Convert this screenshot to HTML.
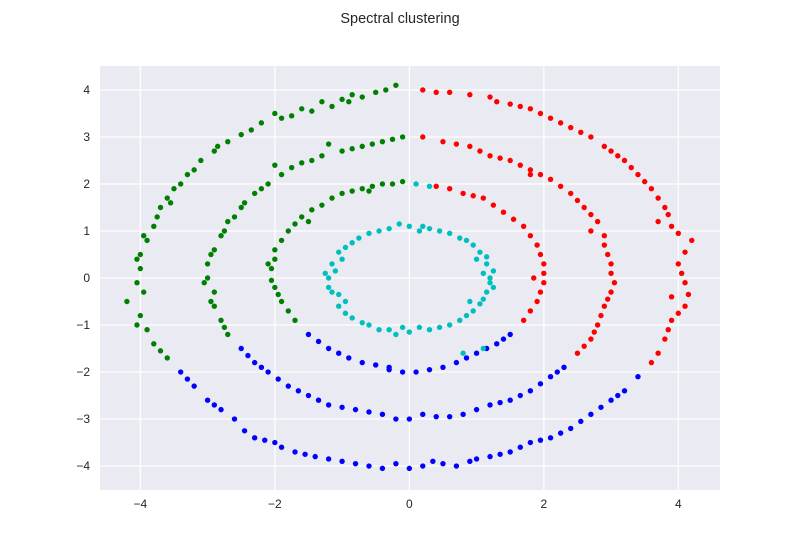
<!DOCTYPE html>
<html><head><meta charset="utf-8"><style>
html,body{margin:0;padding:0;background:#fff;}
svg{display:block;font-family:"Liberation Sans",Arial,sans-serif;}
</style></head><body>
<svg id="chart" width="800" height="550" xmlns="http://www.w3.org/2000/svg">
<text x="400" y="23" text-anchor="middle" font-size="14.5" fill="#262626">Spectral clustering</text>
<rect x="100" y="66" width="620" height="424" fill="#eaeaf2"/>
<g id="grid"></g>
<g id="ticks"></g>
<g id="points"></g>
</svg>
<script>
const xTicks=[-4,-2,0,2,4];
const yTicks=[-4,-3,-2,-1,0,1,2,3,4];
const greenPts=[[-0.2,4.1],[-0.5,3.95],[-0.7,3.85],[-1.0,3.8],[-1.3,3.75],[-1.6,3.6],[-1.9,3.4],[-2.2,3.3],[-2.5,3.05],[-2.7,2.9],[-2.9,2.7],[-3.1,2.5],[-3.3,2.2],[-3.4,2.0],[-3.6,1.7],[-3.7,1.5],[-3.8,1.1],[-3.9,0.8],[-4.0,0.5],[-4.0,0.2],[-4.05,-0.1],[-4.2,-0.5],[-4.0,-0.8],[-3.9,-1.1],[-3.8,-1.4],[-3.6,-1.7],
[-0.1,3.0],[-0.4,2.9],[-0.7,2.8],[-1.0,2.7],[-1.3,2.6],[-1.6,2.45],[-1.9,2.2],[-2.1,2.0],[-2.3,1.8],[-2.5,1.5],[-2.7,1.2],[-2.8,0.9],[-2.9,0.6],[-3.0,0.3],[-3.0,0.0],[-2.9,-0.3],[-2.9,-0.6],[-2.8,-0.9],[-2.7,-1.2],
[-0.1,2.05],[-0.4,2.0],[-0.7,1.9],[-1.0,1.8],[-1.3,1.55],[-1.6,1.3],[-1.8,1.0],[-2.0,0.6],[-2.05,0.2],[-2.0,-0.2],[-1.9,-0.5],[-1.7,-0.9],
[-0.9,3.75],[-2.0,3.5],[-3.5,1.9],[-1.2,2.85],[-2.0,2.4],[-2.6,1.3],[-0.6,1.85],[-1.5,1.2],[-2.1,0.3],
[-0.35,4.0],[-0.85,3.9],[-1.15,3.65],[-1.45,3.55],[-1.75,3.45],[-2.35,3.15],[-2.85,2.8],[-3.2,2.3],[-3.55,1.6],[-3.75,1.3],[-3.95,0.9],[-4.05,0.4],[-3.95,-0.3],[-4.05,-1.0],[-3.7,-1.55],
[-0.25,2.95],[-0.55,2.85],[-0.85,2.75],[-1.45,2.5],[-1.75,2.35],[-2.2,1.9],[-2.45,1.6],[-2.75,1.0],[-2.95,0.5],[-3.05,-0.1],[-2.95,-0.5],[-2.75,-1.05],
[-0.25,2.0],[-0.55,1.95],[-0.85,1.85],[-1.15,1.7],[-1.45,1.45],[-1.7,1.15],[-1.9,0.8],[-2.0,0.4],[-2.05,-0.05],[-1.95,-0.35],[-1.8,-0.7]];
const bluePts=[[-3.4,-2.0],[-3.2,-2.3],[-3.0,-2.6],[-2.8,-2.8],[-2.6,-3.0],[-2.3,-3.4],[-2.0,-3.5],[-1.7,-3.7],[-1.4,-3.8],[-1.0,-3.9],[-0.6,-4.0],[-0.2,-3.95],[0.2,-4.0],[0.5,-3.95],[0.9,-3.9],[1.2,-3.8],[1.5,-3.7],[1.8,-3.5],[2.1,-3.4],[2.4,-3.2],[2.7,-2.9],[3.0,-2.6],[3.2,-2.4],[3.4,-2.1],
[-2.5,-1.5],[-2.3,-1.8],[-2.1,-2.0],[-1.8,-2.3],[-1.5,-2.5],[-1.2,-2.7],[-0.8,-2.8],[-0.4,-2.9],[0.0,-3.0],[0.4,-2.95],[0.8,-2.9],[1.2,-2.7],[1.5,-2.6],[1.8,-2.4],[2.1,-2.1],[2.3,-1.9],
[-1.5,-1.2],[-1.2,-1.5],[-0.9,-1.7],[-0.5,-1.85],[-0.1,-2.0],[0.3,-1.95],[0.7,-1.8],[1.0,-1.6],[1.3,-1.4],[1.5,-1.2],
[-1.9,-3.6],[0.0,-4.05],[1.0,-3.85],[-1.0,-2.75],[1.0,-2.8],[-0.3,-1.95],[0.5,-1.9],
[-3.3,-2.15],[-2.9,-2.7],[-2.45,-3.25],[-2.15,-3.45],[-1.55,-3.75],[-1.2,-3.85],[-0.8,-3.95],[-0.4,-4.05],[0.35,-3.9],[0.7,-4.0],[1.35,-3.75],[1.65,-3.6],[1.95,-3.45],[2.25,-3.3],[2.55,-3.05],[2.85,-2.75],[3.1,-2.5],
[-2.4,-1.65],[-2.2,-1.9],[-1.95,-2.15],[-1.65,-2.4],[-1.35,-2.6],[-0.6,-2.85],[-0.2,-3.0],[0.2,-2.9],[0.6,-2.95],[1.35,-2.65],[1.65,-2.5],[1.95,-2.25],[2.2,-2.0],
[-1.35,-1.35],[-1.05,-1.6],[-0.7,-1.8],[-0.3,-1.9],[0.1,-2.0],[0.85,-1.7],[1.15,-1.5],[1.4,-1.3]];
const redPts=[[3.6,-1.8],[3.8,-1.3],[3.9,-0.9],[4.1,-0.6],[4.1,-0.1],[4.0,0.3],[4.2,0.8],[3.9,1.1],[3.8,1.5],[3.6,1.9],[3.4,2.2],[3.2,2.5],[3.0,2.7],[2.7,3.0],[2.4,3.2],[2.1,3.4],[1.8,3.6],[1.5,3.7],[1.2,3.85],[0.9,3.9],[0.6,3.95],[0.2,4.0],
[2.5,-1.6],[2.7,-1.3],[2.8,-1.0],[2.9,-0.6],[3.0,-0.3],[3.0,0.1],[2.95,0.5],[2.9,0.9],[2.8,1.2],[2.6,1.5],[2.4,1.8],[2.1,2.1],[1.8,2.3],[1.5,2.5],[1.2,2.6],[0.9,2.8],[0.5,2.9],[0.2,3.0],
[1.7,-0.9],[1.9,-0.5],[2.0,-0.1],[2.0,0.3],[1.9,0.7],[1.7,1.1],[1.4,1.4],[1.1,1.7],[0.8,1.8],[0.4,1.95],
[3.7,1.2],[2.9,2.8],[1.3,3.75],[3.9,-0.4],[2.7,1.0],[1.8,2.2],[1.85,0.0],
[3.7,-1.6],[3.85,-1.1],[4.0,-0.75],[4.15,-0.35],[4.05,0.1],[4.1,0.55],[4.0,0.95],[3.85,1.35],[3.7,1.7],[3.5,2.05],[3.3,2.35],[3.1,2.6],[2.55,3.1],[2.25,3.3],[1.95,3.5],[1.65,3.65],[0.4,3.95],
[2.6,-1.45],[2.75,-1.15],[2.85,-0.8],[2.95,-0.45],[3.05,-0.1],[3.0,0.3],[2.9,0.7],[2.7,1.35],[2.5,1.65],[2.25,1.95],[1.95,2.2],[1.65,2.4],[1.35,2.55],[1.05,2.7],[0.7,2.85],
[1.8,-0.7],[1.95,-0.3],[2.0,0.1],[1.95,0.5],[1.8,0.9],[1.55,1.25],[1.25,1.55],[0.95,1.75],[0.6,1.9]];
const cyanPts=[[1.2,0],[1.15,0.3],[1.05,0.55],[0.85,0.8],[0.6,0.95],[0.3,1.05],[0,1.1],[-0.3,1.05],[-0.6,0.95],[-0.85,0.75],[-1.05,0.55],[-1.15,0.3],[-1.2,0],[-1.15,-0.3],[-1.05,-0.6],[-0.85,-0.85],[-0.6,-1.0],[-0.3,-1.1],[0,-1.15],[0.3,-1.1],[0.6,-1.0],[0.85,-0.8],[1.05,-0.55],[1.15,-0.3],
[1.1,0.1],[0.95,0.7],[0.45,1.0],[-0.15,1.15],[-0.75,0.85],[-1.1,0.15],[-1.05,-0.35],[-0.7,-0.95],[-0.1,-1.05],[0.45,-1.05],[0.95,-0.7],[1.2,-0.1],
[0.1,2.0],[0.3,1.95],[1.1,-1.5],[0.8,-1.6],
[1.25,0.15],[1.15,0.45],[0.75,0.85],[0.15,1.0],[-0.45,1.0],[-0.95,0.65],[-1.25,0.1],[-1.2,-0.2],[-0.95,-0.75],[-0.45,-1.1],[0.15,-1.05],[0.75,-0.9],[1.1,-0.45],[1.25,-0.2],
[1.0,0.4],[-1.0,0.4],[-0.95,-0.5],[0.9,-0.5],[0.2,1.1],[-0.2,-1.2]];
const series=[{name:'green',pts:greenPts,color:'#008000'},{name:'blue',pts:bluePts,color:'#0000ff'},{name:'red',pts:redPts,color:'#ff0000'},{name:'cyan',pts:cyanPts,color:'#00bfbf'}];
const NS='http://www.w3.org/2000/svg';
const X0=100,X1=720,Y0=66,Y1=490;
const xMin=-4.6,xMax=4.62,yMin=-4.51,yMax=4.51;
function sx(v){return X0+(v-xMin)/(xMax-xMin)*(X1-X0);}
function sy(v){return Y1-(v-yMin)/(yMax-yMin)*(Y1-Y0);}
const grid=document.getElementById('grid'),ticks=document.getElementById('ticks'),pg=document.getElementById('points');
function mk(t,a){const e=document.createElementNS(NS,t);for(const k in a)e.setAttribute(k,a[k]);return e;}
xTicks.forEach(v=>{
 const l=mk('line',{x1:sx(v),x2:sx(v),y1:Y0,y2:Y1,stroke:'#fff','stroke-width':1.2});
 
 
 grid.appendChild(l);
 const t=mk('text',{x:sx(v),y:Y1+18,'text-anchor':'middle','font-size':12,fill:'#262626'});
 
 
 t.textContent=(v<0?'\u2212'+(-v):v);ticks.appendChild(t);
});
yTicks.forEach(v=>{
 const l=mk('line',{x1:X0,x2:X1,y1:sy(v),y2:sy(v),stroke:'#fff','stroke-width':1.2});
 
 
 grid.appendChild(l);
 const t=mk('text',{x:X0-10,y:sy(v)+4,'text-anchor':'end','font-size':12,fill:'#262626'});
 
 
 t.textContent=(v<0?'\u2212'+(-v):v);ticks.appendChild(t);
});
series.forEach(s=>{
 s.pts.forEach(p=>{
  const c=mk('circle',{cx:sx(p[0]),cy:sy(p[1]),r:2.7,fill:s.color});
  
  
  pg.appendChild(c);
 });
});
</script>
</body></html>
